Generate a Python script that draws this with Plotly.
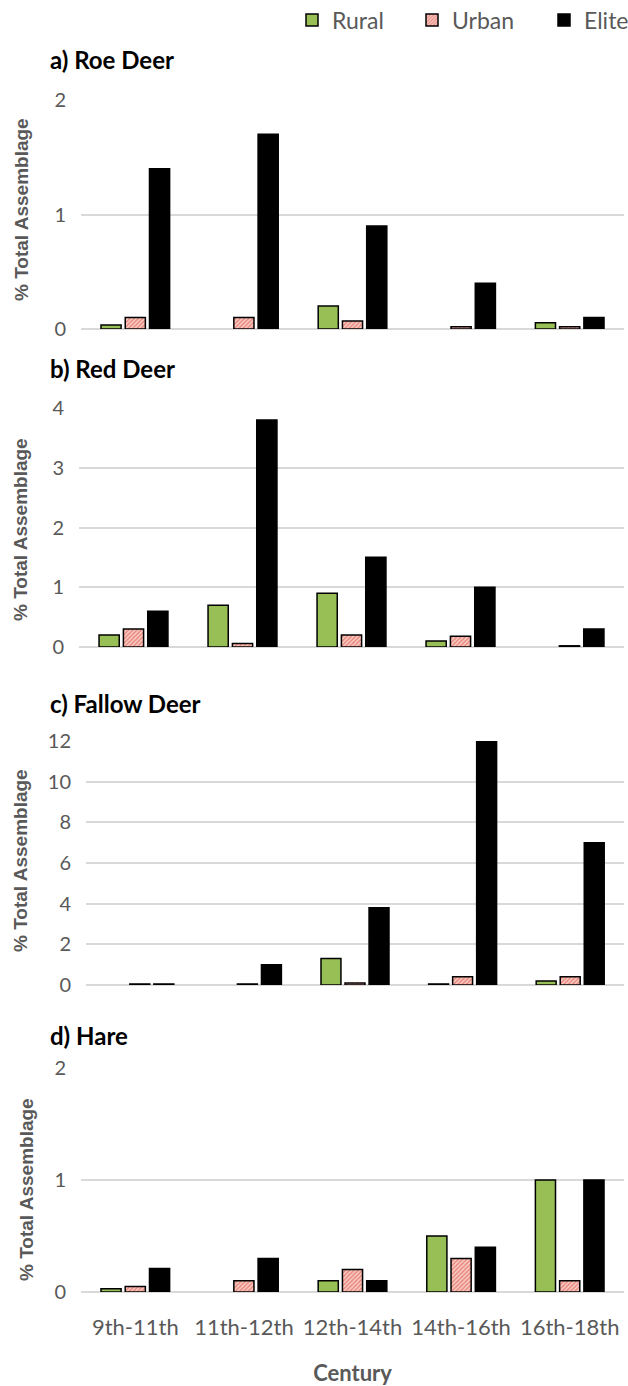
import plotly.graph_objects as go

categories = ["9th-11th", "11th-12th", "12th-14th", "14th-16th", "16th-18th"]
series_names = ["Rural", "Urban", "Elite"]

roe_rural = [0.035, None, 0.2, None, 0.055]
roe_urban = [0.1, 0.1, 0.07, 0.02, 0.02]
roe_elite = [1.4, 1.7, 0.9, 0.4, 0.1]

red_rural = [0.2, 0.7, 0.9, 0.1, None]
red_urban = [0.3, 0.06, 0.2, 0.18, 0.02]
red_elite = [0.6, 3.8, 1.5, 1.0, 0.3]

fallow_rural = [None, None, 1.3, 0.05, 0.2]
fallow_urban = [0.05, 0.05, 0.1, 0.4, 0.4]
fallow_elite = [0.05, 1.0, 3.8, 12, 7]

hare_rural = [0.03, None, 0.1, 0.5, 1.0]
hare_urban = [0.05, 0.1, 0.2, 0.3, 0.1]
hare_elite = [0.21, 0.3, 0.1, 0.4, 1.0]

panel_titles = ["a) Roe Deer", "b) Red Deer", "c) Fallow Deer", "d) Hare"]
y_ranges = [[0, 2], [0, 4], [0, 12], [0, 2]]
y_dticks = [1, 1, 2, 1]
panels = [
    (roe_rural, roe_urban, roe_elite),
    (red_rural, red_urban, red_elite),
    (fallow_rural, fallow_urban, fallow_elite),
    (hare_rural, hare_urban, hare_elite),
]

W, H = 628, 1386
# pixel layout (top, bottom, left) of each plot area
plot_px = [(100, 329, 81), (408, 647, 79), (741, 985, 86), (1068, 1292, 81)]
title_px = [60, 369, 703, 1035]
ytitle_px = [(22, 210), (20, 530), (20, 861), (26, 1190)]
legend_x_px = [292, 412, 544]
right_px = 624

RURAL = "#98bf55"
ELITE = "#000000"
GRID = "#d9d9d9"
GREY = "#595959"
TICKFONT = "Lato"

fig = go.Figure()
layout = dict(
    width=W, height=H,
    margin=dict(l=0, r=0, t=0, b=0, autoexpand=False),
    paper_bgcolor="white", plot_bgcolor="white",
    barmode="group", bargap=0.33, bargroupgap=0.17,
    showlegend=True,
    annotations=[],
)
legend_keys = ["legend", "legend2", "legend3"]
for k, key in enumerate(legend_keys):
    layout[key] = dict(orientation="h", x=legend_x_px[k] / W, xanchor="left",
                       y=1 - 20 / H, yanchor="middle",
                       font=dict(family=TICKFONT, size=23, color=GREY),
                       bgcolor="rgba(0,0,0,0)", itemwidth=30)

for i, (rural, urban, elite) in enumerate(panels):
    suffix = "" if i == 0 else str(i + 1)
    xa = "x" + suffix
    ya = "y" + suffix
    top, bot, left = plot_px[i]
    fig.add_trace(go.Bar(x=categories, y=rural, name=series_names[0], xaxis=xa, yaxis=ya,
                         marker=dict(color=RURAL, line=dict(color="black", width=1.5)),
                         showlegend=(i == 0), legend="legend", legendgroup="r"))
    fig.add_trace(go.Bar(x=categories, y=urban, name=series_names[1], xaxis=xa, yaxis=ya,
                         marker=dict(color="#f3b8ae", line=dict(color="black", width=1.5),
                                     pattern=dict(shape="/", fgcolor="#dc3e34", bgcolor="#f8d4cc",
                                                  size=3, solidity=0.55)),
                         showlegend=(i == 0), legend="legend2", legendgroup="u"))
    fig.add_trace(go.Bar(x=categories, y=elite, name=series_names[2], xaxis=xa, yaxis=ya,
                         marker=dict(color=ELITE, line=dict(color="black", width=1.5)),
                         showlegend=(i == 0), legend="legend3", legendgroup="e"))
    layout["xaxis" + suffix] = dict(
        domain=[left / W, right_px / W], anchor=ya, automargin=False,
        showticklabels=(i == 3), showgrid=False, showline=False, zeroline=False,
        ticks="", tickfont=dict(family=TICKFONT, size=22, color=GREY),
        ticklabelstandoff=20,
        title=dict(text="<b>Century</b>", font=dict(family=TICKFONT, size=22, color=GREY),
                   standoff=26) if i == 3 else None,
    )
    layout["yaxis" + suffix] = dict(
        domain=[1 - bot / H, 1 - top / H], anchor=xa, automargin=False,
        range=y_ranges[i], dtick=y_dticks[i], tick0=0,
        showgrid=True, gridcolor=GRID, gridwidth=1.5,
        zeroline=True, zerolinecolor=GRID, zerolinewidth=1.5,
        showline=False, ticks="",
        tickfont=dict(family=TICKFONT, size=20, color=GREY),
        ticklabelstandoff=14,
    )
    layout["annotations"].append(dict(
        text="<b>" + panel_titles[i] + "</b>", xref="paper", yref="paper",
        x=48 / W, y=1 - title_px[i] / H, xanchor="left", yanchor="middle",
        showarrow=False, font=dict(family=TICKFONT, size=24, color="black")))
    yx, yy = ytitle_px[i]
    layout["annotations"].append(dict(
        text="<b>% Total Assemblage</b>", xref="paper", yref="paper",
        x=yx / W, y=1 - yy / H, xanchor="center", yanchor="middle", textangle=-90,
        showarrow=False, font=dict(family="Liberation Sans", size=19, color=GREY)))

fig.update_layout(**layout)
fig.write_html("out.html", config={"displayModeBar": False},
               post_script="document.body.style.margin='0';document.body.style.overflow='hidden';")
